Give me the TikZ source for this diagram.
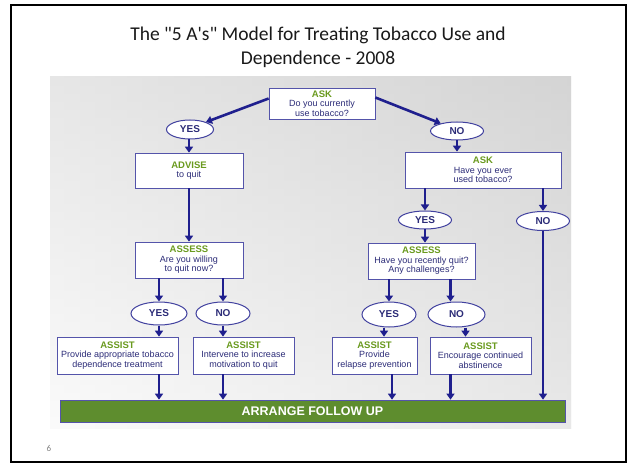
\documentclass[tikz,border=0pt]{standalone}
\usepackage{fontspec}
\setmainfont{Carlito}[Ligatures=TeXOff]
\newfontfamily\arialfont{Liberation Sans}
\usepackage{tikz}
\usetikzlibrary{calc,shapes.geometric,arrows.meta}
\definecolor{flownavy}{HTML}{1F1F8E}
\definecolor{boxline}{HTML}{5454AA}
\definecolor{stepgreen}{HTML}{6A9A1E}
\definecolor{bargreen}{HTML}{5E8D2E}
\definecolor{subtext}{HTML}{2C2C78}
\def\drawflow{\draw[flow]}
\def\stepnode{\node[stepbox]}
\def\ansnode{\node[answer]}
\newcommand{\steptitle}[1]{{\fontsize{9.5}{10}\selectfont\bfseries\color{stepgreen}#1}\\}
\tikzset{
  stepbox/.style={draw=boxline, fill=white, line width=0.7pt, align=center, inner sep=0pt,
    text=subtext, font=\arialfont\fontsize{9}{9.6}\selectfont},
  answer/.style={ellipse, draw=flownavy!85, fill=white, line width=1pt, inner sep=0pt,
    text=subtext, font=\arialfont\bfseries\fontsize{10}{10}\selectfont},
  flow/.style={flownavy, line width=2.6pt, -{Triangle[width=8pt,length=6pt]}}
}

\begin{document}
\begin{tikzpicture}[x=1pt,y=-1pt]
\useasboundingbox (0,0) rectangle (629,465);
\draw[black, line width=2pt] (11,5) rectangle (626,462);
\node[font=\fontsize{19.5}{23.5}\selectfont, align=center, text=black!90] (title) at (318,47.5)
  {The "5 A's" Model for Treating Tobacco Use and\\Dependence - 2008};
\node[font=\fontsize{9}{9}\selectfont, text=gray] (pagenum) at (49,448) {6};

% background of the chart
\shade[left color=gray!6, right color=gray!32] (50,77) rectangle (571,428);
\shade[top color=gray!35, bottom color=white, opacity=0.45] (50,77) rectangle (571,428);

% first question
\stepnode[minimum width=106, minimum height=31] (ask1) at (322,103.5) {\steptitle{ASK}Do you currently\\use tobacco?};
\ansnode[minimum width=47, minimum height=19] (yes1) at (190,129.5) {YES};
\ansnode[minimum width=53, minimum height=18] (no1) at (457,131) {NO};
\drawflow ($(ask1.west)+(0,-5)$) -- (yes1.25);
\drawflow ($(ask1.east)+(0,-6)$) -- (no1.155);

% left branch: current users
\stepnode[minimum width=108, minimum height=35] (advise) at (189,170.5) {\steptitle{ADVISE}to quit};
\stepnode[minimum width=108, minimum height=36] (assess1) at (189,260) {\steptitle{ASSESS}Are you willing\\to quit now?};
\ansnode[minimum width=56, minimum height=23] (yes2) at (159,313.5) {YES};
\ansnode[minimum width=54, minimum height=23] (no2) at (223,313.5) {NO};
\stepnode[minimum width=121, minimum height=37] (assist1) at (117.5,355.5) {\steptitle{ASSIST}Provide appropriate tobacco\\dependence treatment};
\stepnode[minimum width=101, minimum height=37] (assist2) at (243.5,355.5) {\steptitle{ASSIST}Intervene to increase\\motivation to quit};
\drawflow (yes1.south -| advise) -- (advise.north);
\drawflow (advise.south) -- (assess1.north);
\drawflow (yes2 |- assess1.south) -- (yes2.north);
\drawflow (no2 |- assess1.south) -- (no2.north);
\drawflow (yes2.south) -- (yes2 |- assist1.north);
\drawflow (no2.south) -- (no2 |- assist2.north);

% right branch: not current users
\stepnode[minimum width=156, minimum height=36] (ask2) at (483,170) {\steptitle{ASK}Have you ever\\used tobacco?};
\ansnode[minimum width=53, minimum height=18] (yes3) at (425,220) {YES};
\ansnode[minimum width=53, minimum height=19] (no3) at (543,221) {NO};
\stepnode[minimum width=107, minimum height=36] (assess2) at (421.5,261) {\steptitle{ASSESS}Have you recently quit?\\Any challenges?};
\ansnode[minimum width=54, minimum height=25] (yes4) at (389,314.5) {YES};
\ansnode[minimum width=57, minimum height=25] (no4) at (456.5,314.5) {NO};
\stepnode[minimum width=85, minimum height=37] (assist3) at (374.5,355.5) {\steptitle{ASSIST}Provide\\relapse prevention};
\stepnode[minimum width=101, minimum height=37] (assist4) at (480.5,355.5) {\steptitle{ASSIST}Encourage continued\\abstinence};
\coordinate (no4_in) at ($(no4.north)+(-6,0)$);
\coordinate (yes4_out) at ($(yes4.south)+(-5,0)$);
\coordinate (no4_out) at ($(no4.south)+(9,0)$);
\drawflow (no1.south) -- (no1 |- ask2.north);
\drawflow (yes3 |- ask2.south) -- (yes3.north);
\drawflow (no3 |- ask2.south) -- (no3.north);
\drawflow (yes3.south) -- (yes3 |- assess2.north);
\drawflow (yes4 |- assess2.south) -- (yes4.north);
\drawflow (no4_in |- assess2.south) -- (no4_in);
\drawflow (yes4_out) -- (yes4_out |- assist3.north);
\drawflow (no4_out) -- (no4_out |- assist4.north);

% follow up bar
\node[draw=boxline, fill=bargreen, line width=0.7pt, minimum width=505, minimum height=22,
  inner sep=0pt, text=white, font=\arialfont\bfseries\fontsize{12.5}{12.5}\selectfont] (followup) at (312.5,411) {ARRANGE FOLLOW UP};
\coordinate (assist3_out) at ($(yes4.south)+(3,0)$);
\coordinate (assist4_out) at ($(no4.south)+(-6,0)$);
\drawflow (yes2 |- assist1.south) -- (yes2 |- followup.north);
\drawflow (no2 |- assist2.south) -- (no2 |- followup.north);
\drawflow (assist3_out |- assist3.south) -- (assist3_out |- followup.north);
\drawflow (assist4_out |- assist4.south) -- (assist4_out |- followup.north);
\drawflow (no3.south) -- (no3 |- followup.north);
\end{tikzpicture}
\end{document}
